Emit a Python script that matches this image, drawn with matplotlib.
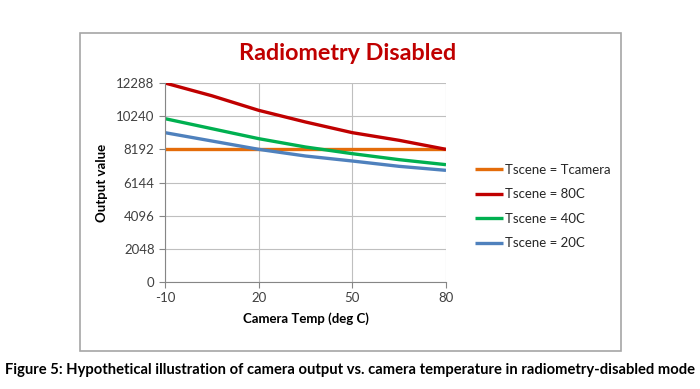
import matplotlib
matplotlib.use("Agg")
import matplotlib.pyplot as plt
from matplotlib.patches import Rectangle

temps = [-10, 5, 20, 35, 50, 65, 80]
t_camera = [8192, 8192, 8192, 8192, 8192, 8192, 8192]
t_80 = [12288, 11500, 10600, 9880, 9221, 8748, 8192]
t_40 = [10086, 9468, 8851, 8336, 7924, 7554, 7245]
t_20 = [9221, 8707, 8192, 7780, 7471, 7142, 6895]
labels = ["Tscene = Tcamera", "Tscene = 80C", "Tscene = 40C", "Tscene = 20C"]
colors = ["#E46C0A", "#C00000", "#00B050", "#4F81BD"]
yticks = [0, 2048, 4096, 6144, 8192, 10240, 12288]
xticks = [-10, 20, 50, 80]

plt.rcParams['font.family'] = ['Lato', 'DejaVu Sans']
plt.rcParams['axes.unicode_minus'] = False

W, H = 700, 389
fig = plt.figure(figsize=(7, 3.89), dpi=100)

# outer chart frame
fig.patches.append(Rectangle((80 / W, 1 - 351 / H), 541 / W, 318 / H, transform=fig.transFigure,
                             facecolor="none", edgecolor="#A6A6A6", lw=1.2))

ax = fig.add_axes([165 / W, 1 - 282 / H, 281 / W, 199 / H])
series = [t_camera, t_80, t_40, t_20]
for s, lab, c in zip(series, labels, colors):
    ax.plot(temps, s, color=c, lw=2.4, label=lab, solid_capstyle="butt")

ax.set_xlim(-10, 80)
ax.set_ylim(0, 12288)
ax.set_xticks(xticks)
ax.set_yticks(yticks)
ax.grid(True, color="#BFBFBF", lw=0.8)
ax.set_axisbelow(True)
for sp in ["top", "right"]:
    ax.spines[sp].set_visible(False)
for sp in ["left", "bottom"]:
    ax.spines[sp].set_color("#868686")
ax.tick_params(axis="both", labelsize=9.5, colors="#404040", length=4, color="#868686")
ax.tick_params(axis="x", direction="out", pad=3)
ax.set_ylabel("Output value", fontsize=9.5, fontweight="bold", color="black", labelpad=6)
ax.set_xlabel("Camera Temp (deg C)", fontsize=9.5, fontweight="bold", color="black", labelpad=6)

fig.text(348 / W, 1 - 53 / H, "Radiometry Disabled", ha="center", va="center",
         fontsize=16.8, fontweight="bold", color="#C00000")

leg = fig.legend(loc="upper left", bbox_to_anchor=(463 / W, 1 - 152 / H), frameon=False,
                 fontsize=9.5, handlelength=2.1, handletextpad=0.15, labelspacing=0.95)
for t in leg.get_texts():
    t.set_color("#262626")

fig.text(350 / W, 1 - 370 / H,
         "Figure 5: Hypothetical illustration of camera output vs. camera temperature in radiometry-disabled mode",
         ha="center", va="center", fontsize=10.6, fontweight="bold", color="black")

fig.savefig("out.png", dpi=100)
